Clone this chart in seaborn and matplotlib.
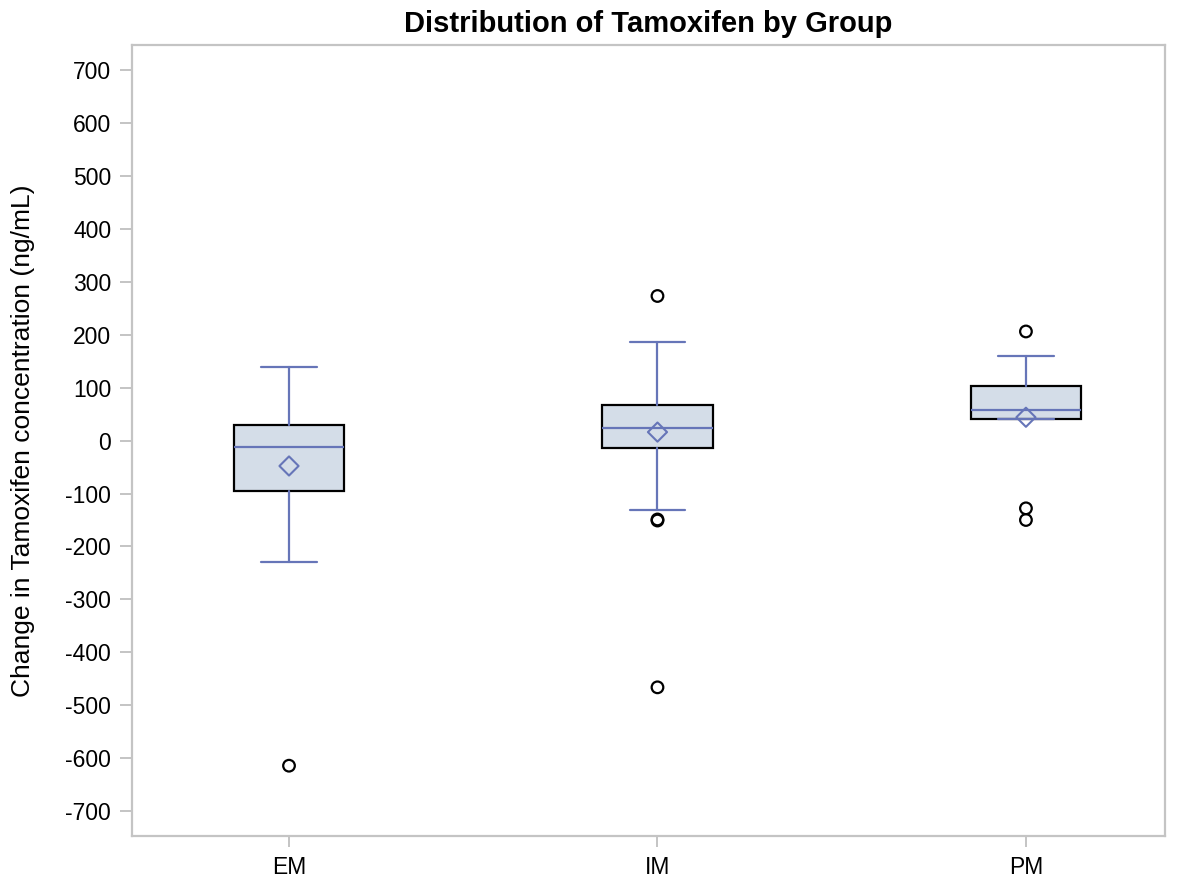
import matplotlib
matplotlib.use("Agg")
import matplotlib.pyplot as plt
import numpy as np
import pandas as pd
import seaborn as sns

# Summary statistics per metabolizer group
groups = ["EM", "IM", "PM"]
q1 = [-96, -14, 41]
medians = [-12, 23, 57]
q3 = [29, 68, 103]
whisker_low = [-230, -131, 41]
whisker_high = [138, 187, 160]
means = [-48, 16, 44]
outliers = [[-614], [273, -149, -151, -466], [206, -128, -150]]

BOX_FILL = "#D4DDE8"
LINE_BLUE = "#6675B8"
SPINE_GREY = "#C4C4C4"

sns.set_theme(style="white")
plt.rcParams["font.family"] = ["Liberation Sans", "DejaVu Sans"]
plt.rcParams["axes.unicode_minus"] = False

fig = plt.figure(figsize=(11.79, 8.82), dpi=100)
ax = fig.add_axes([0.112, 0.052, 0.876, 0.897])

stats = []
for i, g in enumerate(groups):
    stats.append(dict(label=g, q1=q1[i], med=medians[i], q3=q3[i],
                      whislo=whisker_low[i], whishi=whisker_high[i],
                      mean=means[i], fliers=[]))

ax.bxp(stats, positions=range(len(groups)), widths=0.30, patch_artist=True,
       showfliers=False, showmeans=False,
       boxprops=dict(facecolor=BOX_FILL, edgecolor="black", linewidth=1.6),
       medianprops=dict(color=LINE_BLUE, linewidth=1.6),
       whiskerprops=dict(color=LINE_BLUE, linewidth=1.6),
       capprops=dict(color=LINE_BLUE, linewidth=1.6),
       capwidths=0.15)

mean_df = pd.DataFrame({"pos": range(len(groups)), "value": means})
sns.scatterplot(data=mean_df, x="pos", y="value", marker="D", s=95,
                facecolor="none", edgecolor=LINE_BLUE, linewidth=1.5,
                ax=ax, zorder=5)

out_df = pd.DataFrame({
    "pos": [i for i, vals in enumerate(outliers) for _ in vals],
    "value": [v for vals in outliers for v in vals],
})
sns.scatterplot(data=out_df, x="pos", y="value", marker="o", s=70,
                facecolor="none", edgecolor="black", linewidth=1.6,
                ax=ax, zorder=5)

ax.set_xlim(-0.426, 2.377)
ax.set_ylim(-747, 747)
ax.set_yticks(np.arange(-700, 701, 100))
ax.set_xticks(range(len(groups)))
ax.set_xticklabels(groups)

for side in ["left", "bottom", "top", "right"]:
    ax.spines[side].set_color(SPINE_GREY)
    ax.spines[side].set_linewidth(1.6)

ax.tick_params(axis="both", which="major", direction="out", color=SPINE_GREY,
               width=1.4, labelsize=16.5, labelcolor="black",
               left=True, bottom=True)
ax.tick_params(axis="y", length=9, pad=6)
ax.tick_params(axis="x", length=8, pad=6)

ax.set_xlabel("")
ax.set_ylabel("Change in Tamoxifen concentration (ng/mL)", fontsize=19,
              color="black", labelpad=22)
ax.set_title("Distribution of Tamoxifen by Group", fontsize=21,
             fontweight="bold", color="black", pad=9)

fig.savefig("out.png", dpi=100)
